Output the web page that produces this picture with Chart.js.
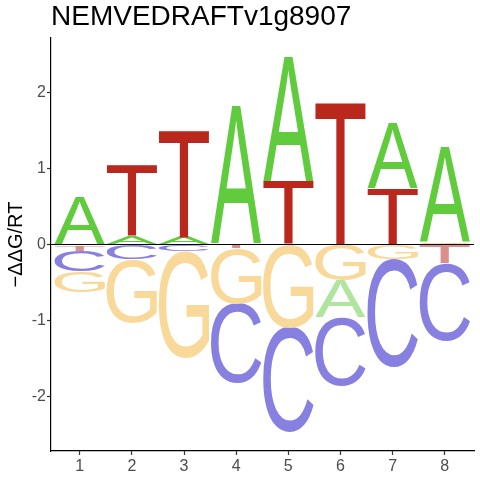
<!DOCTYPE html>
<html>
<head>
<meta charset="utf-8">
<script src="https://cdn.jsdelivr.net/npm/chart.js@4.4.1/dist/chart.umd.min.js"></script>
<style>
  html, body { margin: 0; padding: 0; background: #fff; }
  #wrap { width: 480px; height: 480px; }
</style>
</head>
<body>
<div id="wrap"><canvas id="logo"></canvas></div>
<script>
// ------------------------------------------------------------------
// data (signed letter heights per position)
// ------------------------------------------------------------------
const POSITIONS = [1, 2, 3, 4, 5, 6, 7, 8];
const LETTERS   = ["A", "C", "G", "T"];

const A_VALS = [0.63, 0.11, 0.10, 1.83, 1.65, -0.49, 0.87, 1.26];
const C_VALS = [-0.27, -0.19, -0.09, -1.05, -1.38, -0.91, -1.42, -1.03];
const G_VALS = [-0.28, -0.84, -1.41, -0.73, -1.10, -0.47, -0.20, 0.02];
const T_VALS = [-0.08, 0.93, 1.41, -0.05, 0.83, 1.87, 0.74, -0.24];

const Y_TICKS = [-2, -1, 0, 1, 2];

const POS_COLORS = { A: "#5FCB3D", C: "#6A5FD8", G: "#F3B335", T: "#B9271D" };
const NEG_COLORS = { A: "#B0E5A0", C: "#8880E0", G: "#F9D99A", T: "#DC8F8A" };

// ------------------------------------------------------------------
// stack letters: smallest next to zero, biggest outside
// ------------------------------------------------------------------
function buildStacks() {
    const vals = { A: A_VALS, C: C_VALS, G: G_VALS, T: T_VALS };
    const out = { A: [], C: [], G: [], T: [] };

    POSITIONS.forEach((p, i) => {
        const col = LETTERS.map(l => ({ l, v: vals[l][i] }));
        const pos = col.filter(o => o.v > 0).sort((a, b) => a.v - b.v);
        const neg = col.filter(o => o.v < 0).sort((a, b) => b.v - a.v);
        let up = 0, down = 0;
        pos.forEach(o => { out[o.l][i] = { x: p, y: [up, up + o.v] }; up += o.v; });
        neg.forEach(o => { out[o.l][i] = { x: p, y: [down, down + o.v] }; down += o.v; });
        col.filter(o => o.v === 0).forEach(o => { out[o.l][i] = { x: p, y: [0, 0] }; });
    });
    return out;
}

// ------------------------------------------------------------------
function drawLetter(ctx, letter, x0, y0, w, h, color) {
    ctx.save();
    ctx.font = '200px "Liberation Sans", Arial, sans-serif';
    ctx.textAlign = "left";
    ctx.textBaseline = "alphabetic";
    const m = ctx.measureText(letter);
    const gw = m.actualBoundingBoxLeft + m.actualBoundingBoxRight;
    const gh = m.actualBoundingBoxAscent + m.actualBoundingBoxDescent;
    ctx.translate(x0, y0);
    ctx.scale(w / gw, h / gh);
    ctx.fillStyle = color;
    ctx.fillText(letter, m.actualBoundingBoxLeft, m.actualBoundingBoxAscent);
    ctx.restore();
}

const letterPlugin = {
    id: "letters",
    afterDatasetsDraw(chart) {
        const ctx = chart.ctx;
        const area = chart.chartArea;
        ctx.save();
        ctx.beginPath();
        ctx.rect(area.left, area.top, area.right - area.left, area.bottom - area.top);
        ctx.clip();

        chart.data.datasets.forEach((ds, di) => {
            const meta = chart.getDatasetMeta(di);
            meta.data.forEach((bar, i) => {
                const range = ds.data[i].y;
                const v = range[1] - range[0];
                if (v === 0) return;
                const { x, y, base, width } = bar.getProps(["x", "y", "base", "width"], true);
                const top = Math.min(y, base);
                const h = Math.abs(base - y);
                const color = v > 0 ? POS_COLORS[ds.label] : NEG_COLORS[ds.label];
                drawLetter(ctx, ds.label, x - width / 2, top, width, h, color);
            });
        });

        // zero line
        const y0 = chart.scales.y.getPixelForValue(0);
        ctx.strokeStyle = "#000";
        ctx.lineWidth = 1;
        ctx.beginPath();
        ctx.moveTo(area.left, y0);
        ctx.lineTo(area.right, y0);
        ctx.stroke();
        ctx.restore();
    }
};

// ------------------------------------------------------------------
const stacks = buildStacks();

new Chart(document.getElementById("logo").getContext("2d"), {
    type: "bar",
    data: {
        datasets: LETTERS.map(l => ({
            label: l,
            data: stacks[l],
            backgroundColor: "rgba(0,0,0,0)",
            borderWidth: 0
        }))
    },
    options: {
        responsive: true,
        maintainAspectRatio: false,
        animation: false,
        grouped: false,
        categoryPercentage: 1,
        barPercentage: 0.965,
        layout: { padding: { left: 0, right: 6, top: 0, bottom: 0 } },
        plugins: {
            legend: { display: false },
            tooltip: { enabled: false },
            title: {
                display: true,
                text: "NEMVEDRAFTv1g8907",
                align: "start",
                fullSize: false,
                color: "#000",
                font: { family: '"Liberation Sans", Arial, sans-serif', size: 28, weight: "normal", lineHeight: 1 },
                padding: { top: 3, bottom: 7 }
            }
        },
        scales: {
            x: {
                type: "linear",
                min: 0.45,
                max: 8.56,
                offset: false,
                afterBuildTicks: s => { s.ticks = POSITIONS.map(v => ({ value: v })); },
                afterFit: s => { s.height = 29; },
                ticks: {
                    color: "#4D4D4D",
                    font: { family: '"Liberation Sans", Arial, sans-serif', size: 16 },
                    padding: 2,
                    maxRotation: 0,
                    autoSkip: false
                },
                grid: { display: true, offset: false, drawOnChartArea: false, drawTicks: true, tickLength: 4, tickColor: "#333", tickWidth: 1.2 },
                border: { display: true, color: "#000", width: 1.2 }
            },
            y: {
                type: "linear",
                min: -2.72,
                max: 2.72,
                afterBuildTicks: s => { s.ticks = Y_TICKS.map(v => ({ value: v })); },
                afterFit: s => { s.width = 51; },
                ticks: {
                    color: "#4D4D4D",
                    font: { family: '"Liberation Sans", Arial, sans-serif', size: 16 },
                    padding: 1
                },
                grid: { display: true, offset: false, drawOnChartArea: false, drawTicks: true, tickLength: 4, tickColor: "#333", tickWidth: 1.2 },
                border: { display: true, color: "#000", width: 1.2 },
                title: {
                    display: true,
                    text: "\u2212\u0394\u0394G/RT",
                    color: "#000",
                    font: { family: '"Liberation Sans", Arial, sans-serif', size: 20 },
                    padding: { top: 4, bottom: 0 }
                }
            }
        }
    },
    plugins: [letterPlugin]
});
</script>
</body>
</html>
